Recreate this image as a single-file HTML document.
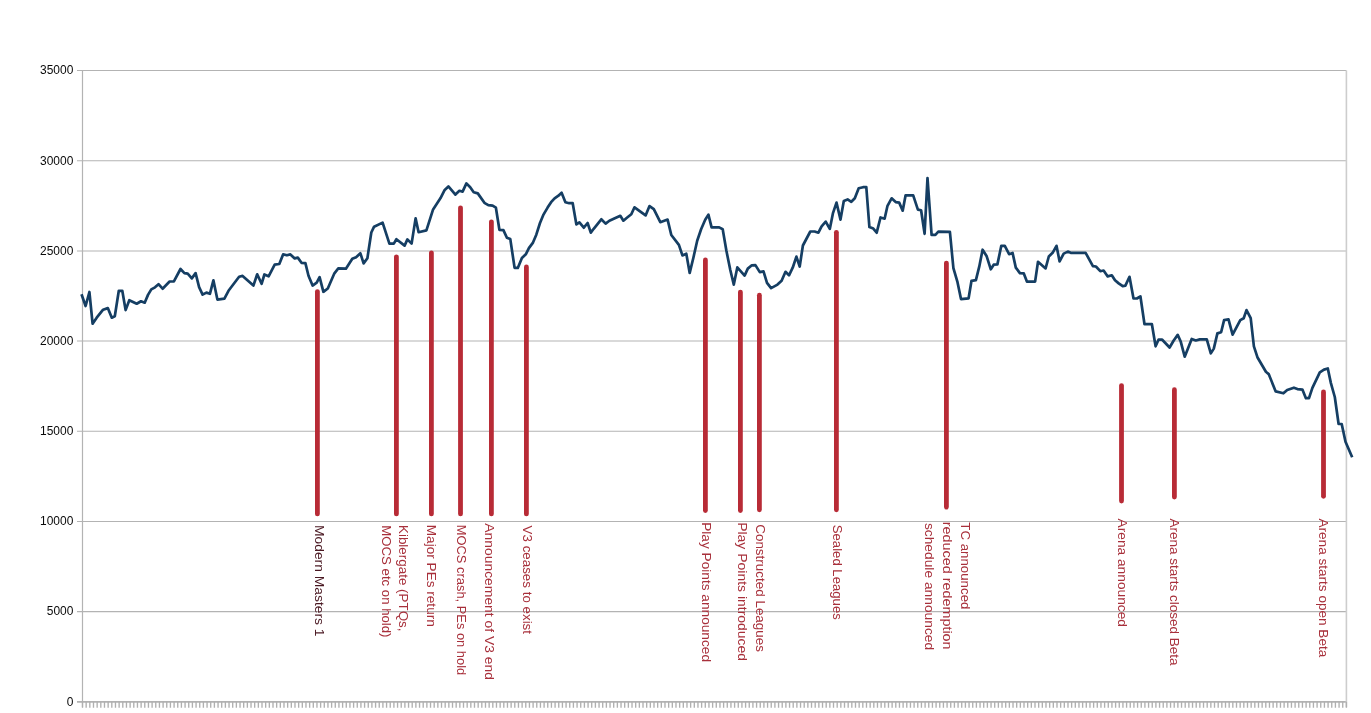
<!DOCTYPE html>
<html><head><meta charset="utf-8"><title>chart</title>
<style>html,body{margin:0;padding:0;background:#fff}svg{display:block;will-change:transform}text{font-family:"Liberation Sans",sans-serif}</style></head><body>
<svg width="1371" height="713" viewBox="0 0 1371 713">
<rect width="1371" height="713" fill="#fff"/>
<line x1="77.0" y1="70.55" x2="1346.4" y2="70.55" stroke="#b3b3b3" stroke-width="1.05"/>
<line x1="77.0" y1="160.73" x2="1346.4" y2="160.73" stroke="#b3b3b3" stroke-width="1.05"/>
<line x1="77.0" y1="250.91" x2="1346.4" y2="250.91" stroke="#b3b3b3" stroke-width="1.05"/>
<line x1="77.0" y1="341.09" x2="1346.4" y2="341.09" stroke="#b3b3b3" stroke-width="1.05"/>
<line x1="77.0" y1="431.27" x2="1346.4" y2="431.27" stroke="#b3b3b3" stroke-width="1.05"/>
<line x1="77.0" y1="521.45" x2="1346.4" y2="521.45" stroke="#b3b3b3" stroke-width="1.05"/>
<line x1="77.0" y1="611.63" x2="1346.4" y2="611.63" stroke="#b3b3b3" stroke-width="1.05"/>
<line x1="77.0" y1="701.81" x2="1346.4" y2="701.81" stroke="#b2b2b2" stroke-width="1.7"/>
<line x1="82.5" y1="70.55" x2="82.5" y2="707.31" stroke="#b3b3b3" stroke-width="1.2"/>
<line x1="1346.4" y1="70.55" x2="1346.4" y2="707.31" stroke="#cdcdcd" stroke-width="1.6"/>
<path d="M82.50 701.81v6M86.16 701.81v6M89.83 701.81v6M93.49 701.81v6M97.15 701.81v6M100.82 701.81v6M104.48 701.81v6M108.14 701.81v6M111.81 701.81v6M115.47 701.81v6M119.13 701.81v6M122.80 701.81v6M126.46 701.81v6M130.13 701.81v6M133.79 701.81v6M137.45 701.81v6M141.12 701.81v6M144.78 701.81v6M148.44 701.81v6M152.11 701.81v6M155.77 701.81v6M159.43 701.81v6M163.10 701.81v6M166.76 701.81v6M170.42 701.81v6M174.09 701.81v6M177.75 701.81v6M181.41 701.81v6M185.08 701.81v6M188.74 701.81v6M192.40 701.81v6M196.07 701.81v6M199.73 701.81v6M203.39 701.81v6M207.06 701.81v6M210.72 701.81v6M214.39 701.81v6M218.05 701.81v6M221.71 701.81v6M225.38 701.81v6M229.04 701.81v6M232.70 701.81v6M236.37 701.81v6M240.03 701.81v6M243.69 701.81v6M247.36 701.81v6M251.02 701.81v6M254.68 701.81v6M258.35 701.81v6M262.01 701.81v6M265.67 701.81v6M269.34 701.81v6M273.00 701.81v6M276.66 701.81v6M280.33 701.81v6M283.99 701.81v6M287.65 701.81v6M291.32 701.81v6M294.98 701.81v6M298.65 701.81v6M302.31 701.81v6M305.97 701.81v6M309.64 701.81v6M313.30 701.81v6M316.96 701.81v6M320.63 701.81v6M324.29 701.81v6M327.95 701.81v6M331.62 701.81v6M335.28 701.81v6M338.94 701.81v6M342.61 701.81v6M346.27 701.81v6M349.93 701.81v6M353.60 701.81v6M357.26 701.81v6M360.92 701.81v6M364.59 701.81v6M368.25 701.81v6M371.91 701.81v6M375.58 701.81v6M379.24 701.81v6M382.91 701.81v6M386.57 701.81v6M390.23 701.81v6M393.90 701.81v6M397.56 701.81v6M401.22 701.81v6M404.89 701.81v6M408.55 701.81v6M412.21 701.81v6M415.88 701.81v6M419.54 701.81v6M423.20 701.81v6M426.87 701.81v6M430.53 701.81v6M434.19 701.81v6M437.86 701.81v6M441.52 701.81v6M445.18 701.81v6M448.85 701.81v6M452.51 701.81v6M456.17 701.81v6M459.84 701.81v6M463.50 701.81v6M467.17 701.81v6M470.83 701.81v6M474.49 701.81v6M478.16 701.81v6M481.82 701.81v6M485.48 701.81v6M489.15 701.81v6M492.81 701.81v6M496.47 701.81v6M500.14 701.81v6M503.80 701.81v6M507.46 701.81v6M511.13 701.81v6M514.79 701.81v6M518.45 701.81v6M522.12 701.81v6M525.78 701.81v6M529.44 701.81v6M533.11 701.81v6M536.77 701.81v6M540.43 701.81v6M544.10 701.81v6M547.76 701.81v6M551.43 701.81v6M555.09 701.81v6M558.75 701.81v6M562.42 701.81v6M566.08 701.81v6M569.74 701.81v6M573.41 701.81v6M577.07 701.81v6M580.73 701.81v6M584.40 701.81v6M588.06 701.81v6M591.72 701.81v6M595.39 701.81v6M599.05 701.81v6M602.71 701.81v6M606.38 701.81v6M610.04 701.81v6M613.70 701.81v6M617.37 701.81v6M621.03 701.81v6M624.69 701.81v6M628.36 701.81v6M632.02 701.81v6M635.69 701.81v6M639.35 701.81v6M643.01 701.81v6M646.68 701.81v6M650.34 701.81v6M654.00 701.81v6M657.67 701.81v6M661.33 701.81v6M664.99 701.81v6M668.66 701.81v6M672.32 701.81v6M675.98 701.81v6M679.65 701.81v6M683.31 701.81v6M686.97 701.81v6M690.64 701.81v6M694.30 701.81v6M697.96 701.81v6M701.63 701.81v6M705.29 701.81v6M708.95 701.81v6M712.62 701.81v6M716.28 701.81v6M719.95 701.81v6M723.61 701.81v6M727.27 701.81v6M730.94 701.81v6M734.60 701.81v6M738.26 701.81v6M741.93 701.81v6M745.59 701.81v6M749.25 701.81v6M752.92 701.81v6M756.58 701.81v6M760.24 701.81v6M763.91 701.81v6M767.57 701.81v6M771.23 701.81v6M774.90 701.81v6M778.56 701.81v6M782.22 701.81v6M785.89 701.81v6M789.55 701.81v6M793.21 701.81v6M796.88 701.81v6M800.54 701.81v6M804.21 701.81v6M807.87 701.81v6M811.53 701.81v6M815.20 701.81v6M818.86 701.81v6M822.52 701.81v6M826.19 701.81v6M829.85 701.81v6M833.51 701.81v6M837.18 701.81v6M840.84 701.81v6M844.50 701.81v6M848.17 701.81v6M851.83 701.81v6M855.49 701.81v6M859.16 701.81v6M862.82 701.81v6M866.48 701.81v6M870.15 701.81v6M873.81 701.81v6M877.47 701.81v6M881.14 701.81v6M884.80 701.81v6M888.47 701.81v6M892.13 701.81v6M895.79 701.81v6M899.46 701.81v6M903.12 701.81v6M906.78 701.81v6M910.45 701.81v6M914.11 701.81v6M917.77 701.81v6M921.44 701.81v6M925.10 701.81v6M928.76 701.81v6M932.43 701.81v6M936.09 701.81v6M939.75 701.81v6M943.42 701.81v6M947.08 701.81v6M950.74 701.81v6M954.41 701.81v6M958.07 701.81v6M961.73 701.81v6M965.40 701.81v6M969.06 701.81v6M972.73 701.81v6M976.39 701.81v6M980.05 701.81v6M983.72 701.81v6M987.38 701.81v6M991.04 701.81v6M994.71 701.81v6M998.37 701.81v6M1002.03 701.81v6M1005.70 701.81v6M1009.36 701.81v6M1013.02 701.81v6M1016.69 701.81v6M1020.35 701.81v6M1024.01 701.81v6M1027.68 701.81v6M1031.34 701.81v6M1035.00 701.81v6M1038.67 701.81v6M1042.33 701.81v6M1045.99 701.81v6M1049.66 701.81v6M1053.32 701.81v6M1056.99 701.81v6M1060.65 701.81v6M1064.31 701.81v6M1067.98 701.81v6M1071.64 701.81v6M1075.30 701.81v6M1078.97 701.81v6M1082.63 701.81v6M1086.29 701.81v6M1089.96 701.81v6M1093.62 701.81v6M1097.28 701.81v6M1100.95 701.81v6M1104.61 701.81v6M1108.27 701.81v6M1111.94 701.81v6M1115.60 701.81v6M1119.26 701.81v6M1122.93 701.81v6M1126.59 701.81v6M1130.25 701.81v6M1133.92 701.81v6M1137.58 701.81v6M1141.25 701.81v6M1144.91 701.81v6M1148.57 701.81v6M1152.24 701.81v6M1155.90 701.81v6M1159.56 701.81v6M1163.23 701.81v6M1166.89 701.81v6M1170.55 701.81v6M1174.22 701.81v6M1177.88 701.81v6M1181.54 701.81v6M1185.21 701.81v6M1188.87 701.81v6M1192.53 701.81v6M1196.20 701.81v6M1199.86 701.81v6M1203.52 701.81v6M1207.19 701.81v6M1210.85 701.81v6M1214.51 701.81v6M1218.18 701.81v6M1221.84 701.81v6M1225.51 701.81v6M1229.17 701.81v6M1232.83 701.81v6M1236.50 701.81v6M1240.16 701.81v6M1243.82 701.81v6M1247.49 701.81v6M1251.15 701.81v6M1254.81 701.81v6M1258.48 701.81v6M1262.14 701.81v6M1265.80 701.81v6M1269.47 701.81v6M1273.13 701.81v6M1276.79 701.81v6M1280.46 701.81v6M1284.12 701.81v6M1287.78 701.81v6M1291.45 701.81v6M1295.11 701.81v6M1298.77 701.81v6M1302.44 701.81v6M1306.10 701.81v6M1309.77 701.81v6M1313.43 701.81v6M1317.09 701.81v6M1320.76 701.81v6M1324.42 701.81v6M1328.08 701.81v6M1331.75 701.81v6M1335.41 701.81v6M1339.07 701.81v6M1342.74 701.81v6M1346.40 701.81v6" stroke="#b0b0b0" stroke-width="1.35" fill="none"/>
<text transform="translate(73.4,74.3) scale(1,1.1)" font-size="12" fill="#0a0a0a" text-anchor="end">35000</text>
<text transform="translate(73.4,164.5) scale(1,1.1)" font-size="12" fill="#0a0a0a" text-anchor="end">30000</text>
<text transform="translate(73.4,254.7) scale(1,1.1)" font-size="12" fill="#0a0a0a" text-anchor="end">25000</text>
<text transform="translate(73.4,344.9) scale(1,1.1)" font-size="12" fill="#0a0a0a" text-anchor="end">20000</text>
<text transform="translate(73.4,435.1) scale(1,1.1)" font-size="12" fill="#0a0a0a" text-anchor="end">15000</text>
<text transform="translate(73.4,525.2) scale(1,1.1)" font-size="12" fill="#0a0a0a" text-anchor="end">10000</text>
<text transform="translate(73.4,615.4) scale(1,1.1)" font-size="12" fill="#0a0a0a" text-anchor="end">5000</text>
<text transform="translate(73.4,705.6) scale(1,1.1)" font-size="12" fill="#0a0a0a" text-anchor="end">0</text>
<line x1="317.4" y1="291.6" x2="317.4" y2="513.9" stroke="#b82b36" stroke-width="4.8" stroke-linecap="round"/>
<line x1="396.4" y1="256.8" x2="396.4" y2="513.9" stroke="#b82b36" stroke-width="4.8" stroke-linecap="round"/>
<line x1="431.4" y1="252.8" x2="431.4" y2="513.9" stroke="#b82b36" stroke-width="4.8" stroke-linecap="round"/>
<line x1="460.5" y1="207.8" x2="460.5" y2="513.9" stroke="#b82b36" stroke-width="4.8" stroke-linecap="round"/>
<line x1="491.4" y1="221.8" x2="491.4" y2="513.9" stroke="#b82b36" stroke-width="4.8" stroke-linecap="round"/>
<line x1="526.4" y1="266.9" x2="526.4" y2="513.9" stroke="#b82b36" stroke-width="4.8" stroke-linecap="round"/>
<line x1="705.4" y1="259.9" x2="705.4" y2="510.6" stroke="#b82b36" stroke-width="4.8" stroke-linecap="round"/>
<line x1="740.4" y1="292.1" x2="740.4" y2="510.6" stroke="#b82b36" stroke-width="4.8" stroke-linecap="round"/>
<line x1="759.4" y1="295.2" x2="759.4" y2="509.8" stroke="#b82b36" stroke-width="4.8" stroke-linecap="round"/>
<line x1="836.4" y1="232.3" x2="836.4" y2="509.8" stroke="#b82b36" stroke-width="4.8" stroke-linecap="round"/>
<line x1="946.4" y1="263.1" x2="946.4" y2="507.1" stroke="#b82b36" stroke-width="4.8" stroke-linecap="round"/>
<line x1="1121.5" y1="385.6" x2="1121.5" y2="501.1" stroke="#b82b36" stroke-width="4.8" stroke-linecap="round"/>
<line x1="1174.4" y1="389.7" x2="1174.4" y2="497.0" stroke="#b82b36" stroke-width="4.8" stroke-linecap="round"/>
<line x1="1323.5" y1="391.9" x2="1323.5" y2="496.3" stroke="#b82b36" stroke-width="4.8" stroke-linecap="round"/>
<polyline points="81.5,294.3 85.6,306.0 89.4,292.0 92.6,323.7 96.7,317.7 103.1,309.7 107.8,308.1 111.8,317.7 114.8,316.3 118.8,290.8 122.3,290.8 125.6,310.1 129.3,300.2 136.7,303.7 141.0,301.3 144.7,302.7 148.0,294.9 151.3,289.4 155.0,287.3 158.5,284.2 162.6,288.7 169.6,281.5 173.9,281.3 180.5,269.0 184.4,273.1 187.7,273.7 191.8,278.4 195.6,273.1 199.1,287.1 202.6,294.6 206.4,292.6 209.9,293.8 213.4,280.3 217.4,299.6 224.4,298.7 228.5,290.8 239.1,276.8 242.6,275.9 253.4,285.6 257.2,274.3 261.6,283.8 264.4,274.5 268.6,276.3 274.7,264.6 279.3,264.0 283.1,254.4 286.9,255.3 290.4,254.4 294.7,258.4 297.8,257.6 301.5,262.8 305.4,263.1 308.5,275.7 312.6,285.6 316.7,282.7 319.6,277.2 323.4,291.8 327.8,288.5 334.4,273.3 338.3,268.4 345.9,268.7 352.3,258.8 356.1,257.2 360.4,253.3 363.6,263.4 367.4,258.2 371.3,232.5 374.1,226.7 382.6,222.6 389.4,243.6 393.8,243.6 396.4,239.2 404.6,245.6 407.4,239.4 411.6,243.6 415.6,218.4 418.6,232.2 426.4,230.4 433.1,209.4 440.4,198.3 444.7,189.9 448.4,186.4 455.4,194.6 459.4,190.8 462.6,191.6 466.4,183.4 470.2,187.3 473.7,192.3 477.8,193.4 484.4,202.8 488.3,205.1 492.6,205.6 495.9,207.7 499.4,229.8 503.4,230.1 506.9,237.8 510.3,239.1 514.6,267.9 517.8,267.9 521.9,258.0 525.8,254.3 528.9,248.1 533.0,242.6 536.3,234.7 540.0,223.0 543.5,214.6 547.6,207.6 551.1,202.2 554.6,198.3 558.1,195.9 561.6,192.7 565.4,202.2 569.2,203.2 572.7,203.2 576.4,224.4 579.4,222.4 583.8,227.7 587.6,223.0 590.8,232.6 593.7,228.8 601.3,219.3 605.6,223.6 609.4,220.7 620.3,215.8 623.4,220.7 626.9,217.8 631.3,214.3 634.5,207.3 645.6,215.4 649.5,206.1 653.8,209.2 660.3,222.2 667.6,219.6 671.3,235.0 678.9,244.9 682.4,255.4 686.3,253.7 689.7,272.9 693.5,257.2 697.2,240.8 701.1,229.2 705.2,219.8 708.4,214.6 711.6,227.4 719.2,227.4 722.7,229.2 726.4,250.8 730.3,270.0 733.8,284.6 737.3,267.4 744.6,275.6 747.8,268.6 751.8,265.3 755.4,265.1 759.8,272.1 763.5,271.4 767.0,282.8 771.1,288.1 777.5,284.6 781.6,280.7 785.5,271.8 789.0,275.3 792.7,267.7 796.4,256.6 799.7,266.5 802.9,245.5 810.3,231.5 814.6,231.5 818.4,232.7 821.6,226.3 825.7,221.6 829.8,228.9 832.9,213.4 836.5,202.6 840.5,219.6 843.8,200.9 847.6,199.4 851.3,201.8 854.8,198.3 858.7,188.3 863.0,187.2 866.3,187.2 869.4,227.1 873.3,228.6 876.7,232.7 880.5,217.5 884.6,218.7 887.5,205.8 891.6,198.3 895.7,202.1 899.2,202.6 902.7,210.7 905.6,195.3 913.2,195.3 917.9,209.6 921.1,210.3 924.6,233.8 927.5,178.1 931.6,234.8 935.4,234.8 938.3,231.7 949.9,231.8 953.4,268.2 957.5,282.2 961.0,299.1 968.6,298.3 971.5,280.8 975.9,280.1 979.3,266.4 982.6,249.7 986.7,256.3 990.8,269.3 993.7,264.7 997.4,264.4 1001.3,245.8 1004.8,245.8 1009.1,254.2 1012.6,253.0 1015.8,267.6 1019.9,273.1 1023.8,273.4 1026.9,281.6 1035.1,281.6 1038.0,261.8 1045.6,268.4 1048.8,256.5 1052.6,252.8 1056.5,245.8 1059.6,261.4 1063.7,253.6 1067.8,251.6 1070.7,252.8 1085.6,252.8 1092.9,266.1 1095.9,266.5 1100.3,271.2 1103.6,270.5 1107.7,276.4 1111.8,275.3 1115.0,280.3 1118.7,283.4 1122.7,286.2 1125.4,285.6 1129.5,276.8 1133.5,298.5 1136.9,298.5 1140.4,296.3 1144.5,324.2 1151.9,324.2 1155.6,346.3 1158.5,339.7 1162.2,339.7 1169.6,347.5 1173.7,340.5 1177.7,334.9 1180.6,341.2 1184.7,356.7 1191.7,339.0 1195.8,340.5 1199.8,339.4 1206.8,339.4 1210.8,353.4 1213.8,348.6 1217.4,333.4 1221.1,332.3 1224.1,320.1 1228.5,319.4 1232.6,334.6 1240.3,320.1 1243.7,318.2 1246.5,310.1 1250.7,318.2 1253.9,346.3 1257.4,357.2 1265.9,371.8 1268.7,374.1 1275.7,391.4 1283.4,393.3 1287.2,390.0 1293.9,387.7 1297.4,389.1 1302.4,389.6 1305.9,398.2 1309.0,398.2 1312.4,387.8 1319.8,372.3 1324.0,369.6 1327.8,368.5 1330.9,383.1 1334.8,397.0 1338.6,424.0 1341.7,424.0 1345.5,441.7 1352.2,457.2" fill="none" stroke="#153e63" stroke-width="2.7" stroke-linejoin="round" stroke-linecap="butt"/>
<text transform="translate(314.6,525.0) rotate(90)" font-size="13" fill="#4a1822" textLength="111.5" lengthAdjust="spacingAndGlyphs">Modern Masters 1</text>
<text transform="translate(381.5,525.3) rotate(90)" font-size="13" fill="#a8303b" textLength="112.2" lengthAdjust="spacingAndGlyphs">MOCS etc on hold)</text>
<text transform="translate(399.4,525.0) rotate(90)" font-size="13" fill="#a8303b" textLength="106.5" lengthAdjust="spacingAndGlyphs">Kiblergate (PTQs,</text>
<text transform="translate(426.9,524.8) rotate(90)" font-size="13" fill="#a8303b" textLength="102.0" lengthAdjust="spacingAndGlyphs">Major PEs return</text>
<text transform="translate(456.7,524.8) rotate(90)" font-size="13" fill="#a8303b" textLength="150.4" lengthAdjust="spacingAndGlyphs">MOCS crash, PEs on hold</text>
<text transform="translate(484.9,523.3) rotate(90)" font-size="13" fill="#a8303b" textLength="156.7" lengthAdjust="spacingAndGlyphs">Announcement of V3 end</text>
<text transform="translate(522.8,525.6) rotate(90)" font-size="13" fill="#a8303b" textLength="108.4" lengthAdjust="spacingAndGlyphs">V3 ceases to exist</text>
<text transform="translate(702.0,522.2) rotate(90)" font-size="13" fill="#a8303b" textLength="139.8" lengthAdjust="spacingAndGlyphs">Play Points announced</text>
<text transform="translate(738.3,522.2) rotate(90)" font-size="13" fill="#a8303b" textLength="138.9" lengthAdjust="spacingAndGlyphs">Play Points introduced</text>
<text transform="translate(755.6,524.2) rotate(90)" font-size="13" fill="#a8303b" textLength="127.8" lengthAdjust="spacingAndGlyphs">Constructed Leagues</text>
<text transform="translate(832.7,524.8) rotate(90)" font-size="13" fill="#a8303b" textLength="95.0" lengthAdjust="spacingAndGlyphs">Sealed Leagues</text>
<text transform="translate(925.4,522.9) rotate(90)" font-size="13" fill="#a8303b" textLength="127.3" lengthAdjust="spacingAndGlyphs">schedule announced</text>
<text transform="translate(943.2,521.7) rotate(90)" font-size="13" fill="#a8303b" textLength="127.9" lengthAdjust="spacingAndGlyphs">reduced redemption</text>
<text transform="translate(960.9,522.3) rotate(90)" font-size="13" fill="#a8303b" textLength="87.1" lengthAdjust="spacingAndGlyphs">TC announced</text>
<text transform="translate(1117.9,518.5) rotate(90)" font-size="13" fill="#a8303b" textLength="108.5" lengthAdjust="spacingAndGlyphs">Arena announced</text>
<text transform="translate(1169.5,518.5) rotate(90)" font-size="13" fill="#a8303b" textLength="147.1" lengthAdjust="spacingAndGlyphs">Arena starts closed Beta</text>
<text transform="translate(1318.5,518.5) rotate(90)" font-size="13" fill="#a8303b" textLength="138.8" lengthAdjust="spacingAndGlyphs">Arena starts open Beta</text>
</svg></body></html>
